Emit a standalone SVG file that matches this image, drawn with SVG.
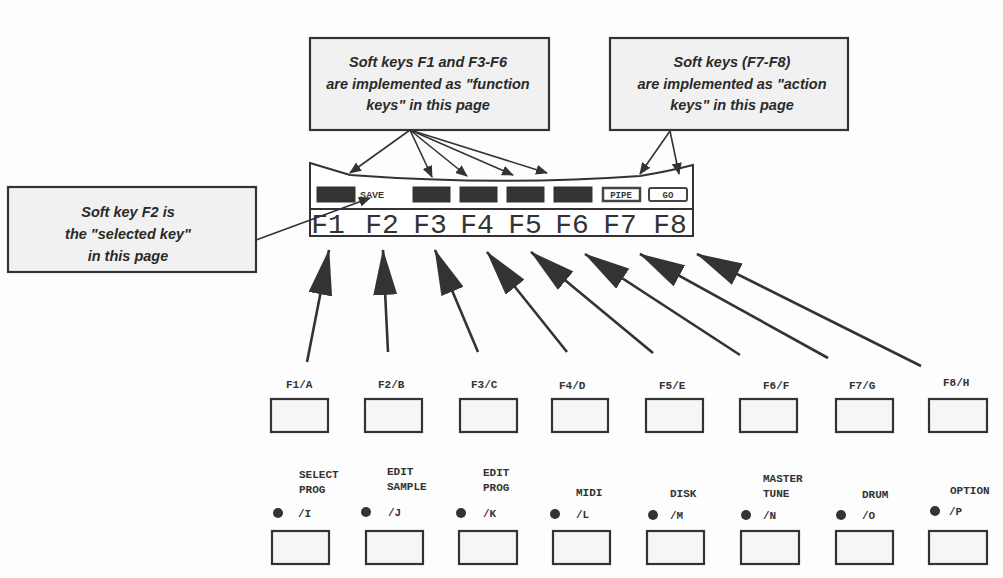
<svg xmlns="http://www.w3.org/2000/svg" width="1003" height="578" viewBox="0 0 1003 578">
<defs>
<style>
.callout{fill:#f1f1f1;stroke:#333;stroke-width:2.2}
.ct{font-family:"Liberation Sans",Arial,sans-serif;font-style:italic;font-weight:bold;font-size:14.5px;fill:#2a2a2a;text-anchor:middle}
.lcd{fill:#fff;stroke:#333;stroke-width:2}
.fk{font-family:"Liberation Mono","Courier New",monospace;font-size:28px;fill:#333;text-anchor:middle}
.dark{fill:#333;stroke:#333;stroke-width:1}
.btn{fill:#f6f6f6;stroke:#333;stroke-width:2.2}
.lbl{font-family:"Liberation Mono","Courier New",monospace;font-weight:bold;font-size:11px;fill:#333}
.led{fill:#333}
.thin{stroke:#333;stroke-width:1.6;fill:none;marker-end:url(#ah)}
.big{stroke:#333;stroke-width:2.6;fill:none;marker-end:url(#bh)}
</style>
<marker id="ah" viewBox="0 0 12 10" refX="11" refY="5" markerWidth="12" markerHeight="10" markerUnits="userSpaceOnUse" orient="auto">
<path d="M0,0 L12,5 L0,10 Z" fill="#333"/>
</marker>
<marker id="bh" viewBox="0 0 46 24" refX="45" refY="12" markerWidth="46" markerHeight="24" markerUnits="userSpaceOnUse" orient="auto">
<path d="M0,0 L46,12 L0,24 Z" fill="#333"/>
</marker>
</defs>
<rect width="1003" height="578" fill="#fdfdfd"/>

<g id="callout-function">
<rect class="callout" x="310" y="38" width="239" height="92"/>
<text class="ct" x="428" y="67">Soft keys F1 and F3-F6</text>
<text class="ct" x="428" y="89">are implemented as "function</text>
<text class="ct" x="428" y="110">keys" in this page</text>
</g>
<g id="callout-action">
<rect class="callout" x="610" y="38" width="238" height="92"/>
<text class="ct" x="732" y="67">Soft keys (F7-F8)</text>
<text class="ct" x="732" y="89">are implemented as "action</text>
<text class="ct" x="732" y="110">keys" in this page</text>
</g>
<g id="callout-selected">
<rect class="callout" x="8" y="187" width="248" height="85"/>
<text class="ct" x="128" y="217">Soft key F2 is</text>
<text class="ct" x="128" y="239">the "selected key"</text>
<text class="ct" x="128" y="261">in this page</text>
</g>

<g id="lcd">
<path class="lcd" d="M310,163 L350,175 Q500,186 640,176 Q670,171 693,165 L693,236 L310,236 Z"/>
<line x1="310" y1="209" x2="693" y2="209" stroke="#333" stroke-width="2"/>
<rect class="dark" x="317" y="187" width="38" height="15"/>
<text x="372" y="198" font-family="Liberation Sans,Arial,sans-serif" font-weight="bold" font-size="9" fill="#333" text-anchor="middle">SAVE</text>
<rect class="dark" x="413" y="187" width="37" height="15"/>
<rect class="dark" x="460" y="187" width="37" height="15"/>
<rect class="dark" x="507" y="187" width="37" height="15"/>
<rect class="dark" x="554" y="187" width="38" height="15"/>
<rect x="603" y="188" width="37" height="13" fill="#fff" stroke="#444" stroke-width="2.5"/>
<text x="621" y="198" font-family="Liberation Mono,monospace" font-weight="bold" font-size="9" fill="#333" text-anchor="middle">PIPE</text>
<rect x="649" y="188" width="38" height="13" rx="2" fill="#fff" stroke="#444" stroke-width="2"/>
<text x="668" y="198" font-family="Liberation Mono,monospace" font-weight="bold" font-size="9" fill="#333" text-anchor="middle">GO</text>
<text class="fk" x="328" y="233">F1</text>
<text class="fk" x="382" y="233">F2</text>
<text class="fk" x="430" y="233">F3</text>
<text class="fk" x="477" y="233">F4</text>
<text class="fk" x="525" y="233">F5</text>
<text class="fk" x="572" y="233">F6</text>
<text class="fk" x="620" y="233">F7</text>
<text class="fk" x="670" y="233">F8</text>
</g>

<g id="key-f1"><text class="lbl" x="286" y="388">F1/A</text><rect class="btn" x="271" y="399" width="57" height="33"/></g>
<g id="key-f2"><text class="lbl" x="378" y="388">F2/B</text><rect class="btn" x="365" y="399" width="57" height="33"/></g>
<g id="key-f3"><text class="lbl" x="471" y="388">F3/C</text><rect class="btn" x="460" y="399" width="57" height="33"/></g>
<g id="key-f4"><text class="lbl" x="559" y="389">F4/D</text><rect class="btn" x="552" y="399" width="56" height="33"/></g>
<g id="key-f5"><text class="lbl" x="659" y="389">F5/E</text><rect class="btn" x="646" y="399" width="57" height="33"/></g>
<g id="key-f6"><text class="lbl" x="763" y="389">F6/F</text><rect class="btn" x="740" y="399" width="57" height="33"/></g>
<g id="key-f7"><text class="lbl" x="849" y="389">F7/G</text><rect class="btn" x="836" y="399" width="57" height="33"/></g>
<g id="key-f8"><text class="lbl" x="943" y="386">F8/H</text><rect class="btn" x="929" y="399" width="58" height="33"/></g>

<g id="key-i"><text class="lbl" x="299" y="478">SELECT</text><text class="lbl" x="299" y="493">PROG</text><circle class="led" cx="278" cy="513" r="5"/><text class="lbl" x="298" y="517">/I</text><rect class="btn" x="272" y="531" width="57" height="33"/></g>
<g id="key-j"><text class="lbl" x="387" y="475">EDIT</text><text class="lbl" x="387" y="490">SAMPLE</text><circle class="led" cx="366" cy="512" r="5"/><text class="lbl" x="388" y="516">/J</text><rect class="btn" x="366" y="531" width="57" height="33"/></g>
<g id="key-k"><text class="lbl" x="483" y="476">EDIT</text><text class="lbl" x="483" y="491">PROG</text><circle class="led" cx="461" cy="513" r="5"/><text class="lbl" x="483" y="517">/K</text><rect class="btn" x="459" y="531" width="58" height="33"/></g>
<g id="key-l"><text class="lbl" x="576" y="496">MIDI</text><circle class="led" cx="555" cy="514" r="5"/><text class="lbl" x="576" y="518">/L</text><rect class="btn" x="553" y="531" width="57" height="33"/></g>
<g id="key-m"><text class="lbl" x="670" y="497">DISK</text><circle class="led" cx="653" cy="515" r="5"/><text class="lbl" x="670" y="519">/M</text><rect class="btn" x="647" y="531" width="57" height="33"/></g>
<g id="key-n"><text class="lbl" x="763" y="482">MASTER</text><text class="lbl" x="763" y="497">TUNE</text><circle class="led" cx="746" cy="515" r="5"/><text class="lbl" x="763" y="519">/N</text><rect class="btn" x="741" y="531" width="58" height="33"/></g>
<g id="key-o"><text class="lbl" x="862" y="498">DRUM</text><circle class="led" cx="841" cy="515" r="5"/><text class="lbl" x="862" y="519">/O</text><rect class="btn" x="836" y="531" width="57" height="33"/></g>
<g id="key-p"><text class="lbl" x="950" y="494">OPTION</text><circle class="led" cx="935" cy="511" r="5"/><text class="lbl" x="949" y="515">/P</text><rect class="btn" x="929" y="531" width="58" height="33"/></g>

<g id="connectors">
<line class="thin" x1="410" y1="130" x2="350" y2="173"/>
<line class="thin" x1="410" y1="130" x2="432" y2="177"/>
<line class="thin" x1="410" y1="130" x2="467" y2="176"/>
<line class="thin" x1="410" y1="130" x2="513" y2="175"/>
<line class="thin" x1="410" y1="130" x2="547" y2="173"/>
<line class="thin" x1="670" y1="131" x2="640" y2="174"/>
<line class="thin" x1="670" y1="131" x2="679" y2="174"/>
<line class="thin" x1="256" y1="240" x2="370" y2="198"/>
<line class="big" x1="307" y1="362" x2="329" y2="250"/>
<line class="big" x1="388" y1="352" x2="383" y2="250"/>
<line class="big" x1="478" y1="352" x2="435" y2="250"/>
<line class="big" x1="567" y1="352" x2="487" y2="252"/>
<line class="big" x1="653" y1="353" x2="531" y2="252"/>
<line class="big" x1="740" y1="355" x2="585" y2="254"/>
<line class="big" x1="828" y1="358" x2="640" y2="254"/>
<line class="big" x1="921" y1="366" x2="697" y2="254"/>
</g>
</svg>
